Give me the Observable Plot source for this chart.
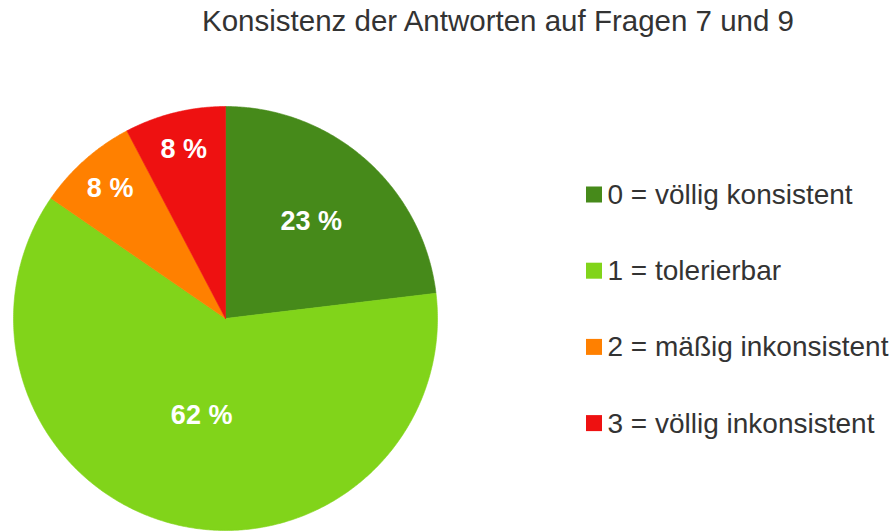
<!DOCTYPE html>
<html>
<head>
<meta charset="utf-8">
<script src="https://cdn.jsdelivr.net/npm/d3@7"></script>
<script src="https://cdn.jsdelivr.net/npm/@observablehq/plot@0.6"></script>
<style>
  html, body { margin: 0; padding: 0; background: #ffffff; }
  #chart svg { display: block; }
</style>
</head>
<body>
<div id="chart"></div>
<script>
// ---- data ----
const title = "Konsistenz der Antworten auf Fragen 7 und 9";
const categories = ["0 = völlig konsistent", "1 = tolerierbar", "2 = mäßig inkonsistent", "3 = völlig inkonsistent"];
const shares = [23.1, 61.5, 7.7, 7.7];   // percent
const colors = ["#468a1a", "#81d41a", "#ff8000", "#ee1111"];

// ---- layout ----
const W = 895, H = 531;
const cx = 225, cy = 318, R = 212;

const total = d3.sum(shares);
const arcs = d3.pie().sort(null).value(d => d)(shares);

const pt = (a, r) => ({x: cx + r * Math.sin(a), y: cy - r * Math.cos(a)});

// slice outlines built from the pie angles
const slicePts = [];
arcs.forEach((a, i) => {
  const cat = categories[i];
  slicePts.push({cat, ...pt(0, 0)});
  const n = Math.max(2, Math.ceil((a.endAngle - a.startAngle) / (Math.PI / 360)));
  for (let k = 0; k <= n; k++) {
    const ang = a.startAngle + (a.endAngle - a.startAngle) * k / n;
    slicePts.push({cat, ...pt(ang, R)});
  }
  slicePts.push({cat, ...pt(0, 0)});
});

// percentage labels
const labelPts = arcs.map((a, i) => {
  const th = a.endAngle - a.startAngle;
  const mid = (a.startAngle + a.endAngle) / 2;
  let d = 4 * R * Math.sin(th / 2) / (3 * th);
  if (th < 0.6) d = 0.82 * R;
  d = Math.max(d, 0.47 * R);
  return {...pt(mid, d), text: Math.round(shares[i] / total * 100) + " %"};
});

// legend rows
const legend = categories.map((c, i) => {
  const y = 194.5 + i * 76.2;
  return {cat: c, y, y1: y - 8, y2: y + 8, x1: 586, x2: 602, tx: 607};
});

const chart = Plot.plot({
  width: W,
  height: H,
  margin: 0,
  x: {domain: [0, W], range: [0, W], axis: null},
  y: {domain: [0, H], range: [0, H], axis: null},
  color: {domain: categories, range: colors},
  style: {fontFamily: "'Liberation Sans', Arial, sans-serif", background: "#ffffff", overflow: "visible"},
  marks: [
    Plot.line(slicePts, {x: "x", y: "y", z: "cat", fill: "cat", stroke: "cat", strokeWidth: 0.6, curve: "linear"}),
    Plot.text(labelPts, {x: "x", y: "y", text: "text", fill: "#ffffff", fontWeight: "bold", fontSize: 27}),
    Plot.text([title], {x: 497.5, y: 21, text: d => d, fontSize: 29.5, fill: "#333333"}),
    Plot.rect(legend, {x1: "x1", x2: "x2", y1: "y1", y2: "y2", fill: "cat"}),
    Plot.text(legend, {x: "tx", y: "y", text: "cat", textAnchor: "start", fontSize: 28, fill: "#333333"})
  ]
});
document.getElementById("chart").appendChild(chart);
</script>
</body>
</html>
